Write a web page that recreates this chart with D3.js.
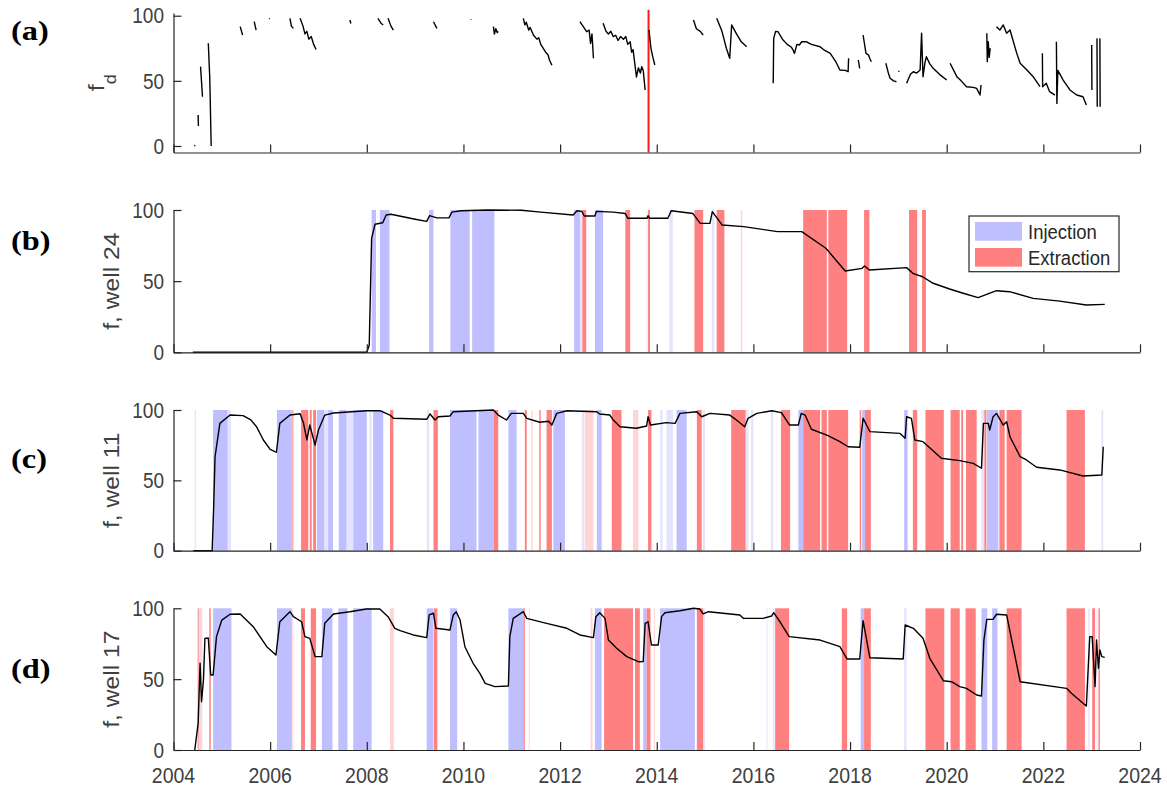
<!DOCTYPE html>
<html>
<head>
<meta charset="utf-8">
<script src="https://cdn.jsdelivr.net/npm/d3@7"></script>
<style>
  body { margin: 0; background: #fff; }
  text { font-family: "Liberation Sans", Arial, sans-serif; }
</style>
</head>
<body>
<div id="chart"></div>
<script>
// ---- data (decimal years, percent) ----
var yearTicks = [2004, 2006, 2008, 2010, 2012, 2014, 2016, 2018, 2020, 2022, 2024];
var yTicks = [0, 50, 100];
var panelLabels = ["(a)", "(b)", "(c)", "(d)"];
var wellLabels = ["f", "f, well 24", "f, well 11", "f, well 17"];
var legendLabels = ["Injection", "Extraction"];
var markerYear = 2013.83;

// (a) f_d, null breaks the line
var fdSeries = [
  [2004.43,0],[2004.45,0.5],[2004.45,null],
  [2004.51,23.8],[2004.515,15.3],[2004.515,null],
  [2004.56,60.9],[2004.6,37.8],[2004.6,null],
  [2004.72,78.8],[2004.75,53],[2004.78,0],[2004.78,null],
  [2005.38,91.6],[2005.43,85.2],[2005.43,null],
  [2005.67,95.4],[2005.71,89],[2005.71,null],
  [2005.98,98],[2005.99,97.5],[2005.99,null],
  [2006.41,98],[2006.44,92],[2006.48,90.3],[2006.48,null],
  [2006.62,98],[2006.68,92],[2006.72,86],[2006.76,88],[2006.8,82],[2006.85,84],[2006.9,78],[2006.95,74],[2006.95,null],
  [2007.65,96.7],[2007.67,94],[2007.67,null],
  [2008.23,98],[2008.3,94],[2008.34,92.9],[2008.34,null],
  [2008.44,98],[2008.5,92],[2008.55,89],[2008.55,null],
  [2009.38,95.4],[2009.45,90.3],[2009.45,null],
  [2010.15,97.2],[2010.16,96.8],[2010.16,null],
  [2010.62,91.6],[2010.64,86],[2010.67,90],[2010.7,87],[2010.72,88],[2010.72,null],
  [2011.24,98],[2011.27,93],[2011.3,95],[2011.35,89],[2011.38,91],[2011.45,85],[2011.52,82],[2011.56,83],[2011.6,78],[2011.7,72],[2011.75,70],[2011.78,66],[2011.83,62],[2011.83,null],
  [2012.41,95.4],[2012.48,91.6],[2012.55,87.7],[2012.6,89],[2012.63,78.8],[2012.66,86],[2012.69,67.3],[2012.69,null],
  [2012.89,94.2],[2012.95,88],[2013.0,86],[2013.05,88],[2013.1,84],[2013.15,85],[2013.2,81],[2013.25,84],[2013.31,82],[2013.36,84],[2013.4,78],[2013.45,80],[2013.48,72],[2013.51,74],[2013.55,62],[2013.58,53],[2013.62,60],[2013.66,56],[2013.69,60.9],[2013.72,58],[2013.76,43],[2013.76,null],
  [2013.84,89],[2013.88,75],[2013.92,68],[2013.96,62.2],[2013.96,null],
  [2014.76,96.7],[2014.82,90],[2014.9,88],[2014.96,85.2],[2014.96,null],
  [2015.24,98],[2015.35,88],[2015.44,75],[2015.51,67.3],[2015.55,92.9],[2015.65,86],[2015.75,80],[2015.86,76.2],[2015.86,null],
  [2016.41,48.1],[2016.42,82.6],[2016.46,88],[2016.51,87.7],[2016.6,82],[2016.7,78],[2016.78,76],[2016.82,73.7],[2016.85,71.1],[2016.9,78],[2016.95,77.5],[2017.0,80],[2017.1,80],[2017.2,78],[2017.38,76.2],[2017.45,74],[2017.59,71.1],[2017.7,65],[2017.79,58.3],[2017.9,58],[2017.96,57],[2017.97,67.3],[2017.97,null],
  [2018.17,66],[2018.2,59.6],[2018.2,null],
  [2018.27,85.2],[2018.33,71.1],[2018.38,70],[2018.41,67],[2018.44,64.7],[2018.44,null],
  [2018.74,63.5],[2018.8,55],[2018.83,52],[2018.9,50],[2018.96,49.3],[2018.96,null],
  [2019.0,57],[2019.02,57.5],[2019.02,null],
  [2019.17,48.1],[2019.25,55],[2019.31,57],[2019.38,56],[2019.45,58.3],[2019.48,86.5],[2019.51,53.2],[2019.55,64],[2019.58,68.5],[2019.65,63],[2019.72,59.6],[2019.85,55],[2020.0,50.6],[2020.0,null],
  [2020.07,63.5],[2020.21,53.2],[2020.3,50],[2020.41,45.5],[2020.55,45],[2020.62,44.2],[2020.69,39.1],[2020.71,46.8],[2020.71,null],
  [2020.83,86.5],[2020.84,64.7],[2020.86,80],[2020.88,68],[2020.9,75],[2020.9,null],
  [2021.03,91.6],[2021.1,89],[2021.17,92.9],[2021.24,86.5],[2021.31,89],[2021.45,71.1],[2021.52,63.5],[2021.66,58.3],[2021.79,53.2],[2021.93,45.5],[2021.93,null],
  [2021.98,71.1],[2021.985,45.5],[2022.06,48.1],[2022.13,41.7],[2022.24,39.1],[2022.24,null],
  [2022.27,80],[2022.28,32.7],[2022.3,58],[2022.41,50.6],[2022.55,43],[2022.69,39.1],[2022.82,37.8],[2022.89,31.5],[2022.89,null],
  [2023.0,77.5],[2023.005,43],[2023.005,null],
  [2023.11,82.6],[2023.115,30.2],[2023.115,null],
  [2023.17,82.6],[2023.175,30.2]
];

// (b) well 24
var well24 = [
  [2004.4,0],[2008.0,0],[2008.05,5],[2008.1,80],[2008.17,90],[2008.33,91],[2008.4,96.5],[2008.5,97],[2009.0,93.5],[2009.24,92],
  [2009.3,96],[2009.45,94.5],[2009.7,94.5],[2009.76,98.5],[2009.95,99.5],[2010.5,100],[2011.2,99.8],[2011.6,98.5],[2012.27,96.5],
  [2012.35,99.5],[2012.45,99],[2012.5,95.8],[2012.72,95.8],[2012.75,99],[2013.1,98.5],[2013.35,97.5],[2013.4,94.2],[2013.8,94.2],
  [2013.82,96],[2013.85,94.2],[2014.23,94.2],[2014.3,99.5],[2014.75,97.5],[2014.9,90.6],[2015.1,90.6],[2015.15,98.8],[2015.35,89.5],
  [2015.8,88.3],[2016.5,84.8],[2017.0,84.8],[2017.5,73.1],[2017.9,57.1],[2018.25,59],[2018.3,60.6],[2018.4,57.8],[2019.17,59.5],
  [2019.3,55.5],[2019.5,53.1],[2019.72,48.5],[2020.06,44.5],[2020.34,41.5],[2020.65,38.4],[2021.03,43.3],[2021.3,42.6],[2021.79,37.9],
  [2022.34,36],[2022.89,33.2],[2023.27,33.7]
];
var injB = [[2008.1,2008.19],[2008.27,2008.47],[2009.29,2009.38],[2009.73,2010.13],[2010.18,2010.64],[2012.29,2012.41],[2012.72,2012.89]];
var injBFaint = [[2012.41,2012.45],[2013.79,2013.81],[2014.26,2014.33],[2015.14,2015.19]];
var extB = [[2012.46,2012.54],[2013.35,2013.45],[2013.82,2013.86],[2014.78,2014.96],[2015.24,2015.4],[2017.03,2017.52],[2017.55,2017.94],
  [2018.29,2018.4],[2019.22,2019.39],[2019.49,2019.57]];
var extBFaint = [[2015.74,2015.77]];

// (c) well 11
var well11 = [
  [2004.41,0],[2004.8,0],[2004.83,30],[2004.86,66.8],[2004.96,90.5],[2005.17,96.4],[2005.44,96],[2005.6,93],[2005.72,88],[2005.86,78.7],
  [2006.0,72],[2006.1,70.4],[2006.13,70],[2006.2,90.5],[2006.41,96.4],[2006.62,97.3],[2006.69,90.7],[2006.76,78.7],[2006.82,89.3],
  [2006.93,75.1],[2007.0,85.8],[2007.13,96.4],[2007.31,97.9],[2008.0,99.5],[2008.27,99.5],[2008.48,96.4],[2008.55,94.1],[2009.24,93.4],
  [2009.31,97.2],[2009.41,92.9],[2009.48,95.2],[2009.72,95.7],[2009.79,98.8],[2010.62,100],[2010.72,96.4],[2010.89,92.9],[2010.99,97.6],
  [2011.24,97.6],[2011.31,94.1],[2011.58,91.3],[2011.76,92],[2011.83,89.3],[2011.93,97.6],[2012.14,99.5],[2012.76,98.8],[2012.82,97.2],
  [2013.03,96.4],[2013.1,92.9],[2013.24,88.1],[2013.58,87],[2013.79,88.6],[2013.82,95.2],[2013.87,89.3],[2014.2,91],[2014.38,90.5],
  [2014.48,97.6],[2014.83,98.8],[2014.93,95.2],[2015.1,97.6],[2015.51,96.4],[2015.65,92.9],[2015.82,88.1],[2015.89,94.1],[2016.07,97.6],
  [2016.38,99.5],[2016.58,98.1],[2016.75,89.3],[2016.93,89.3],[2016.99,97.6],[2017.07,96.4],[2017.2,86.3],[2017.52,82.2],[2017.79,77.5],
  [2017.96,73.9],[2018.2,73.5],[2018.27,94.1],[2018.41,84.6],[2019.03,83.4],[2019.14,79.9],[2019.17,95.2],[2019.27,94],[2019.34,78.7],
  [2019.51,77.5],[2019.89,65.7],[2020.27,64],[2020.55,62.1],[2020.72,58.6],[2020.76,90.5],[2020.86,90.5],[2020.89,85.8],[2020.96,95.2],
  [2021.03,97.6],[2021.17,89.3],[2021.24,91.7],[2021.31,81],[2021.52,66.8],[2021.65,64.5],[2021.86,59.3],[2022.34,57.4],[2022.82,53.1],
  [2023.21,53.8],[2023.24,73.9]
];
var injC = [[2004.82,2005.12],[2006.14,2006.45],[2006.97,2007.12],[2007.2,2007.3],[2007.42,2007.58],[2007.72,2008.0],[2008.13,2008.34],
  [2009.72,2010.27],[2010.31,2010.63],[2010.93,2011.1],[2011.86,2012.1],[2012.76,2012.86],[2014.41,2014.62],[2016.93,2017.03],
  [2018.25,2018.31],[2019.12,2019.19],[2020.83,2021.07]];
var injCFaint = [[2005.12,2005.19],[2007.12,2007.2],[2007.58,2007.72],[2008.05,2008.1],[2009.24,2009.29],[2012.45,2012.5],[2014.07,2014.12],
  [2014.2,2014.34],[2014.95,2015.0],[2015.85,2015.9],[2015.95,2016.0],[2016.36,2016.41],[2020.72,2020.78],[2023.2,2023.24]];
var extC = [[2006.46,2006.48],[2006.64,2006.79],[2006.82,2006.86],[2006.89,2006.95],[2008.48,2008.55],[2009.38,2009.47],[2010.63,2010.72],
  [2011.27,2011.31],[2011.57,2011.6],[2011.72,2011.83],[2013.07,2013.27],[2013.82,2013.89],[2014.83,2014.93],[2015.54,2015.84],
  [2016.57,2016.76],[2017.03,2017.38],[2017.41,2017.52],[2017.55,2017.96],[2018.2,2018.23],[2018.31,2018.43],[2019.3,2019.39],
  [2019.56,2019.94],[2020.08,2020.27],[2020.3,2020.34],[2020.4,2020.62],[2020.78,2020.82],[2021.09,2021.2],[2021.24,2021.55],[2022.48,2022.86]];
var extCFaint = [[2004.44,2004.46],[2011.4,2011.43],[2012.51,2012.69],[2013.51,2013.62]];

// (d) well 17
var well17 = [
  [2004.44,0],[2004.51,18.8],[2004.55,61.2],[2004.58,34.1],[2004.62,49.4],[2004.65,78.8],[2004.72,79],[2004.77,52.9],[2004.82,52.9],
  [2004.89,80],[2005.0,91.7],[2005.17,95.8],[2005.38,96],[2005.65,87],[2005.93,72.9],[2006.12,67],[2006.2,90.5],[2006.41,97.6],
  [2006.48,94.1],[2006.65,90.5],[2006.72,80],[2006.82,78.8],[2006.93,65.9],[2007.07,65.9],[2007.13,89.4],[2007.31,96],[2007.65,97.6],
  [2007.99,99.5],[2008.27,99.5],[2008.44,94.1],[2008.58,85.9],[2008.69,84.2],[2008.96,81.2],[2009.24,79.3],[2009.29,95.3],[2009.38,96.5],
  [2009.43,85.9],[2009.72,84.7],[2009.79,95.3],[2009.85,97.6],[2009.93,91.7],[2010.03,72.9],[2010.2,61.2],[2010.34,54.1],[2010.45,47],
  [2010.65,44.7],[2010.93,45.2],[2010.96,80],[2011.03,92.9],[2011.24,97.6],[2011.31,92.9],[2011.72,89.4],[2012.14,85.9],[2012.41,81.2],
  [2012.69,79.3],[2012.74,94.1],[2012.82,96.9],[2012.93,92.9],[2013.0,77.6],[2013.17,71.8],[2013.38,65.9],[2013.62,62.3],[2013.72,62.5],
  [2013.76,89.4],[2013.82,90.5],[2013.89,74.1],[2014.03,74.1],[2014.1,94.1],[2014.17,96.9],[2014.48,98.3],[2014.76,100],[2014.89,99.5],
  [2014.96,96],[2015.07,97.6],[2015.72,95.3],[2015.79,92.9],[2016.2,92.9],[2016.38,94.6],[2016.42,96.9],[2016.55,90.5],[2016.74,80],
  [2017.38,77.6],[2017.79,72.9],[2017.94,64.2],[2018.2,64.2],[2018.27,91.3],[2018.41,65.1],[2019.1,64.2],[2019.14,88.2],[2019.31,85.9],
  [2019.51,78.8],[2019.65,64.7],[2019.93,48.9],[2020.1,48.2],[2020.27,44.7],[2020.41,43.5],[2020.62,38.8],[2020.72,38.1],[2020.77,77.6],
  [2020.83,92.2],[2020.96,92.2],[2021.03,95.8],[2021.24,95.3],[2021.52,48.2],[2022.48,43.5],[2022.58,40],[2022.89,31],[2022.96,80],
  [2023.01,80],[2023.07,44.7],[2023.1,77.6],[2023.14,57.7],[2023.17,70.6],[2023.21,65.9],[2023.27,65.4]
];
var injD = [[2004.82,2005.2],[2006.14,2006.45],[2007.07,2007.29],[2007.41,2007.6],[2007.72,2008.1],[2009.24,2009.38],[2009.72,2009.87],
  [2010.93,2011.24],[2012.72,2012.86],[2013.72,2013.79],[2014.07,2014.79],[2018.22,2018.29],[2020.72,2020.84],[2020.94,2021.05]];
var injDFaint = [[2004.53,2004.6],[2014.96,2015.0],[2016.27,2016.29],[2016.4,2016.44],[2019.12,2019.17],[2022.93,2022.96],[2023.1,2023.12]];
var extD = [[2004.5,2004.52],[2004.74,2004.77],[2006.64,2006.72],[2006.84,2006.95],[2009.39,2009.46],[2011.24,2011.27],[2012.91,2013.51],
  [2013.55,2013.65],[2013.79,2013.87],[2014.83,2014.96],[2016.45,2016.74],[2017.83,2017.94],[2018.29,2018.43],[2019.56,2019.95],
  [2020.08,2020.27],[2020.39,2020.6],[2021.24,2021.55],[2022.48,2022.86],[2023.01,2023.07],[2023.14,2023.17]];
var extDFaint = [[2004.52,2004.58],[2006.46,2006.48],[2008.48,2008.56],[2011.35,2011.37],[2012.63,2012.67],[2013.94,2013.96]];

// ---- layout ----
var width = 1167, height = 787;
var axisColor = "#262626", textColor = "#404040";
var injColor = "#bfbfff", extColor = "#ff8080";
var injFaintColor = "#e4e4ff", extFaintColor = "#ffd4d4";
var sy = 1.12; // text in the figure is a bit taller than wide

var svg = d3.select("#chart").append("svg")
  .attr("width", width)
  .attr("height", height);

var x = d3.scaleLinear().domain([2004, 2024]).range([173.5, 1140]);

var panels = [
  {series: fdSeries, domain: [-5, 102], range: [152.5, 13.1], labelY: 40},
  {series: well24, domain: [0, 100], range: [352.3, 210], inj: injB, injF: injBFaint, ext: extB, extF: extBFaint, labelY: 250},
  {series: well11, domain: [0, 100], range: [550.7, 410], inj: injC, injF: injCFaint, ext: extC, extF: extCFaint, labelY: 468},
  {series: well17, domain: [0, 100], range: [750, 608.3], inj: injD, injF: injDFaint, ext: extD, extF: extDFaint, labelY: 678}
];

panels.forEach(function(p, i) {
  var y = d3.scaleLinear().domain(p.domain).range(p.range);
  var g = svg.append("g");

  // shaded periods
  function spans(data, color) {
    if (!data) return;
    g.append("g").selectAll("rect")
      .data(data)
      .enter().append("rect")
      .attr("x", function(d) { return x(d[0]); })
      .attr("width", function(d) { return Math.max(x(d[1]) - x(d[0]), 0.8); })
      .attr("y", y(100))
      .attr("height", y(0) - y(100))
      .style("fill", color);
  }
  spans(p.injF, injFaintColor);
  spans(p.extF, extFaintColor);
  spans(p.inj, injColor);
  spans(p.ext, extColor);

  if (i == 0) {
    g.append("line")
      .attr("x1", x(markerYear)).attr("x2", x(markerYear))
      .attr("y1", y(-5)).attr("y2", y(104.5))
      .style("stroke", "#ff1a1a")
      .style("stroke-width", 2);
  }

  var line = d3.line()
    .defined(function(d) { return d[1] != null; })
    .x(function(d) { return x(d[0]); })
    .y(function(d) { return y(d[1]); });

  g.append("path")
    .datum(p.series)
    .attr("d", line)
    .style("fill", "none")
    .style("stroke", "#000")
    .style("stroke-width", 1.4)
    .style("stroke-linejoin", "round");

  // AXES
  var xa = g.append("g")
    .attr("transform", "translate(0," + p.range[0] + ")")
    .call(d3.axisBottom(x).tickValues(yearTicks).tickSizeInner(-8).tickSizeOuter(0).tickFormat(""));
  var ya = g.append("g")
    .attr("transform", "translate(" + x(2004) + ",0)")
    .call(d3.axisLeft(y).tickValues(yTicks).tickSizeInner(-8).tickSizeOuter(0).tickFormat(""));
  g.selectAll(".domain, .tick line").style("stroke", axisColor).style("stroke-width", 1.2);

  yTicks.forEach(function(v) {
    g.append("text")
      .attr("transform", "translate(164," + y(v) + ") scale(1," + sy + ")")
      .attr("dy", "0.36em")
      .style("text-anchor", "end")
      .style("font-size", "19px")
      .style("fill", textColor)
      .text(v);
  });

  if (i == 3) {
    yearTicks.forEach(function(t) {
      g.append("text")
        .attr("transform", "translate(" + x(t) + ",782.5) scale(1," + sy + ")")
        .style("text-anchor", "middle")
        .style("font-size", "19.5px")
        .style("fill", textColor)
        .text(t);
    });
  }

  // AXIS LABEL
  var midY = (p.range[0] + p.range[1]) / 2;
  var yl = g.append("text")
    .attr("transform", "translate(119," + midY + ") scale(1," + sy + ") rotate(-90)")
    .style("text-anchor", "middle")
    .style("font-size", "22px")
    .style("fill", textColor);
  yl.append("tspan").text(wellLabels[i]);
  if (i == 0) {
    yl.attr("transform", "translate(104," + midY + ") scale(1," + sy + ") rotate(-90)");
    yl.append("tspan").attr("dy", 12).style("font-size", "16px").text("d");
  }

  // panel letter
  g.append("text")
    .attr("transform", "translate(11," + p.labelY + ") scale(1.2,1)")
    .style("font-family", "'Liberation Serif', 'Times New Roman', serif")
    .style("font-weight", "bold")
    .style("font-size", "27px")
    .style("fill", "#000")
    .text(panelLabels[i]);
});

// LEGEND (panel b)
var lg = svg.append("g");
lg.append("rect")
  .attr("x", 969).attr("y", 216).attr("width", 150).attr("height", 55.7)
  .style("fill", "#fff").style("stroke", axisColor).style("stroke-width", 1.2);
[injColor, extColor].forEach(function(c, k) {
  lg.append("rect")
    .attr("x", 975).attr("y", 222 + k * 26).attr("width", 47).attr("height", 18.7)
    .style("fill", c);
  lg.append("text")
    .attr("transform", "translate(1028," + (238.5 + k * 26) + ") scale(1," + sy + ")")
    .style("font-size", "18.5px")
    .style("fill", "#262626")
    .text(legendLabels[k]);
});
</script>
</body>
</html>
